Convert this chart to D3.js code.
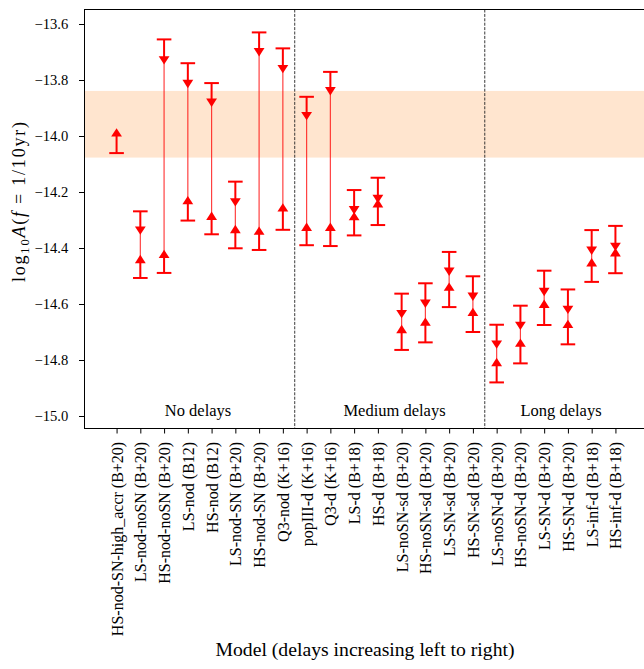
<!DOCTYPE html>
<html>
<head>
<meta charset="utf-8">
<script src="https://cdn.jsdelivr.net/npm/d3@7"></script>
<style>
  html, body { margin: 0; padding: 0; background: #fff; }
  svg { display: block; }
  text { font-family: "Liberation Serif", "Times New Roman", serif; fill: #000; }
</style>
</head>
<body>
<svg id="chart" width="644" height="669"></svg>
<script>
// Models, ordered by increasing delays
const models = [
  "HS-nod-SN-high_accr (B+20)", "LS-nod-noSN (B+20)", "HS-nod-noSN (B+20)",
  "LS-nod (B12)", "HS-nod (B12)", "LS-nod-SN (B+20)", "HS-nod-SN (B+20)",
  "Q3-nod (K+16)", "popIII-d (K+16)", "Q3-d (K+16)", "LS-d (B+18)", "HS-d (B+18)",
  "LS-noSN-sd (B+20)", "HS-noSN-sd (B+20)", "LS-SN-sd (B+20)", "HS-SN-sd (B+20)",
  "LS-noSN-d (B+20)", "HS-noSN-d (B+20)", "LS-SN-d (B+20)", "HS-SN-d (B+20)",
  "LS-inf-d (B+18)", "HS-inf-d (B+18)"
];

// Upper estimate (downward marker) and the end of its error bar
const upperVal = [null, -14.338, -13.730, -13.814, -13.881, -14.237, -13.701, -13.761,
  -13.929, -13.840, -14.265, -14.225, -14.636, -14.599, -14.485, -14.574,
  -14.745, -14.678, -14.557, -14.621, -14.410, -14.396];
const upperCap = [null, -14.269, -13.655, -13.740, -13.811, -14.163, -13.630, -13.687,
  -13.860, -13.771, -14.193, -14.149, -14.563, -14.526, -14.414, -14.501,
  -14.674, -14.606, -14.481, -14.548, -14.336, -14.321];

// Lower estimate (upward marker) and the end of its error bar
const lowerVal = [-13.987, -14.439, -14.421, -14.229, -14.285, -14.332, -14.338, -14.255,
  -14.324, -14.324, -14.286, -14.240, -14.689, -14.663, -14.538, -14.628,
  -14.807, -14.738, -14.599, -14.671, -14.451, -14.415];
const lowerCap = [-14.061, -14.507, -14.489, -14.302, -14.351, -14.401, -14.407, -14.335,
  -14.390, -14.393, -14.355, -14.318, -14.764, -14.737, -14.611, -14.700,
  -14.880, -14.812, -14.675, -14.744, -14.521, -14.490];

// Observed amplitude band
const bandRange = [-14.077, -13.839];

// Delay groups
const groupDividers = [7.5, 15.5];
const groupNames = ["No delays", "Medium delays", "Long delays"];
const groupLabelX = [3.43, 11.70, 18.71];
const groupLabelY = -15.0;

const yTicks = [-15.0, -14.8, -14.6, -14.4, -14.2, -14.0, -13.8, -13.6];

// Layout
const plotLeft = 84.5, plotRight = 647.5, plotTop = 9.5, plotBottom = 428.5;
const red = "#ff0000";

const svg = d3.select("#chart");

const x = d3.scaleLinear().domain([-1.35, 22.35]).range([plotLeft, plotRight]);
const y = d3.scaleLinear().domain([-15.0446, -13.5482]).range([plotBottom, plotTop]);

const plot = svg.append("g");

// Shaded band
plot.append("rect")
  .attr("x", plotLeft).attr("width", plotRight - plotLeft)
  .attr("y", y(bandRange[1]))
  .attr("height", y(bandRange[0]) - y(bandRange[1]))
  .attr("fill", "rgb(255,127,14)").attr("fill-opacity", 0.2);

// Group dividers
plot.selectAll("line.div").data(groupDividers).join("line")
  .attr("class", "div")
  .attr("x1", d => x(d)).attr("x2", d => x(d))
  .attr("y1", plotTop).attr("y2", plotBottom)
  .attr("stroke", "#222").attr("stroke-width", 0.9)
  .attr("stroke-dasharray", "3,1.4");

// Group labels
plot.selectAll("text.grp").data(groupNames).join("text")
  .attr("class", "grp")
  .attr("x", (d, i) => x(groupLabelX[i]))
  .attr("y", y(groupLabelY))
  .attr("text-anchor", "middle")
  .attr("font-size", 16.5)
  .text(d => d);

const idx = d3.range(models.length);

// Thin line joining the two estimates
plot.selectAll("line.join").data(idx.filter(i => upperVal[i] != null)).join("line")
  .attr("class", "join")
  .attr("x1", i => x(i)).attr("x2", i => x(i))
  .attr("y1", i => y(upperVal[i])).attr("y2", i => y(lowerVal[i]))
  .attr("stroke", red).attr("stroke-width", 1.2).attr("stroke-opacity", 0.75);

// Error bars: stems and caps
const bars = [];
idx.forEach(i => {
  if (upperVal[i] != null) bars.push({ i, v: upperVal[i], c: upperCap[i], dir: "down" });
  bars.push({ i, v: lowerVal[i], c: lowerCap[i], dir: "up" });
});

plot.selectAll("line.stem").data(bars).join("line")
  .attr("class", "stem")
  .attr("x1", d => x(d.i)).attr("x2", d => x(d.i))
  .attr("y1", d => y(d.v)).attr("y2", d => y(d.c))
  .attr("stroke", red).attr("stroke-width", 2);

const capHalf = 7.3;
plot.selectAll("line.cap").data(bars).join("line")
  .attr("class", "cap")
  .attr("x1", d => x(d.i) - capHalf).attr("x2", d => x(d.i) + capHalf)
  .attr("y1", d => y(d.c)).attr("y2", d => y(d.c))
  .attr("stroke", red).attr("stroke-width", 2);

// Triangle markers
const tw = 5.4, th = 4.2;
const triDown = `M${-tw},${-th}L${tw},${-th}L0,${th}Z`;
const triUp = `M${-tw},${th}L${tw},${th}L0,${-th}Z`;
plot.selectAll("path.mk").data(bars).join("path")
  .attr("class", "mk")
  .attr("transform", d => `translate(${x(d.i)},${y(d.v)})`)
  .attr("d", d => d.dir === "down" ? triDown : triUp)
  .attr("fill", red);

// Frame
svg.append("rect")
  .attr("x", plotLeft).attr("y", plotTop)
  .attr("width", plotRight - plotLeft).attr("height", plotBottom - plotTop)
  .attr("fill", "none").attr("stroke", "#000").attr("stroke-width", 1);

// Y axis
const yAxis = svg.append("g")
  .attr("transform", `translate(${plotLeft},0)`)
  .call(d3.axisLeft(y).tickValues(yTicks)
    .tickSize(5.5).tickPadding(10.8)
    .tickFormat(d => d3.format(".1f")(d).replace("-", "\u2212")));
yAxis.select(".domain").remove();
yAxis.selectAll(".tick line").attr("stroke", "#000").attr("stroke-width", 1);
yAxis.selectAll(".tick text")
  .attr("font-family", "Liberation Serif, serif")
  .attr("font-size", 14.6).attr("fill", "#000");

// X axis
const xAxis = svg.append("g")
  .attr("transform", `translate(0,${plotBottom})`)
  .call(d3.axisBottom(x).tickValues(idx)
    .tickSize(5).tickPadding(8.5)
    .tickFormat(i => models[i]));
xAxis.select(".domain").remove();
xAxis.selectAll(".tick line").attr("stroke", "#000").attr("stroke-width", 1);
xAxis.selectAll(".tick text")
  .attr("font-family", "Liberation Serif, serif")
  .attr("font-size", 16).attr("fill", "#000")
  .attr("transform", "rotate(-90)")
  .attr("text-anchor", "end")
  .attr("x", -13.3).attr("y", 0).attr("dy", "0.34em");

// Axis titles
svg.append("text")
  .attr("x", (plotLeft + plotRight) / 2 - 1).attr("y", 656)
  .attr("text-anchor", "middle").attr("font-size", 19.7)
  .text("Model (delays increasing left to right)");

const yl = svg.append("text")
  .attr("transform", "translate(24.5,202) rotate(-90)")
  .attr("text-anchor", "middle").attr("font-size", 18)
  .attr("textLength", 160).attr("lengthAdjust", "spacing");
yl.append("tspan").text("log");
yl.append("tspan").attr("font-size", 12.5).attr("dy", 4).text("10");
yl.append("tspan").attr("dy", -4).attr("font-style", "italic").text("A");
yl.append("tspan").text("(");
yl.append("tspan").attr("font-style", "italic").text("f");
yl.append("tspan").text(" = 1/10yr)");
</script>
</body>
</html>
